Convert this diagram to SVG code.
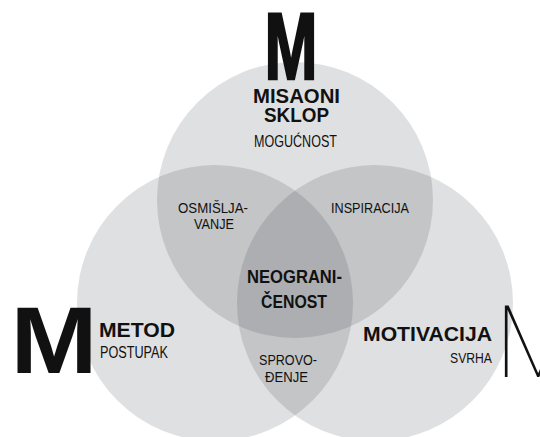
<svg xmlns="http://www.w3.org/2000/svg" width="540" height="437" viewBox="0 0 540 437">
<style>
.c{fill:#2a2c35;fill-opacity:0.15}
text{font-family:"Liberation Sans",Arial,sans-serif;fill:#111}
.b{font-weight:bold}
.big{font-weight:bold;font-size:95px}
.n{font-size:16px}
.s{font-size:15.5px}
</style>
<rect width="540" height="437" fill="#fff"/>
<g id="circles">
<circle id="c-top" class="c" cx="295" cy="200" r="138"/>
<circle id="c-left" class="c" cx="215" cy="303" r="138"/>
<circle id="c-right" class="c" cx="375" cy="303" r="138"/>
</g>
<g id="connectors"/>
<g id="node-misaoni">
<text class="big" x="264.5" y="79" textLength="53" lengthAdjust="spacingAndGlyphs" stroke="#111" stroke-width="2.5">M</text>
<text class="b" x="253" y="103" font-size="20" textLength="87" lengthAdjust="spacingAndGlyphs">MISAONI</text>
<text class="b" x="264" y="122" font-size="20" textLength="65" lengthAdjust="spacingAndGlyphs">SKLOP</text>
<text x="254" y="147" font-size="16.5" textLength="83" lengthAdjust="spacingAndGlyphs">MOGUĆNOST</text>
</g>
<g id="node-metod">
<text class="big" x="10.4" y="373" textLength="87" lengthAdjust="spacingAndGlyphs">M</text>
<text class="b" x="99" y="337" font-size="20.5" textLength="76" lengthAdjust="spacingAndGlyphs">METOD</text>
<text class="n" x="100" y="358" textLength="68" lengthAdjust="spacingAndGlyphs">POSTUPAK</text>
</g>
<g id="node-motivacija">
<text x="495" y="377" font-size="101" font-weight="100" style="font-family:Roboto,'Liberation Sans',sans-serif">M</text>
<text class="b" x="363" y="341" font-size="21" textLength="129" lengthAdjust="spacingAndGlyphs">MOTIVACIJA</text>
<text class="s" x="450" y="363" textLength="42" lengthAdjust="spacingAndGlyphs">SVRHA</text>
</g>
<g id="node-osmisljavanje">
<text class="s" x="178" y="213" textLength="70" lengthAdjust="spacingAndGlyphs">OSMIŠLJA-</text>
<text class="s" x="194" y="229" textLength="40" lengthAdjust="spacingAndGlyphs">VANJE</text>
</g>
<g id="node-inspiracija">
<text class="s" x="331" y="213" textLength="78" lengthAdjust="spacingAndGlyphs">INSPIRACIJA</text>
</g>
<g id="node-neogranicenost">
<text class="b" x="247" y="283" font-size="17.5" textLength="95" lengthAdjust="spacingAndGlyphs">NEOGRANI-</text>
<text class="b" x="261" y="308" font-size="17.5" textLength="66" lengthAdjust="spacingAndGlyphs">ČENOST</text>
</g>
<g id="node-sprovodjenje">
<text class="s" x="259" y="365" textLength="58" lengthAdjust="spacingAndGlyphs">SPROVO-</text>
<text class="s" x="265" y="382" textLength="43" lengthAdjust="spacingAndGlyphs">ĐENJE</text>
</g>
</svg>
